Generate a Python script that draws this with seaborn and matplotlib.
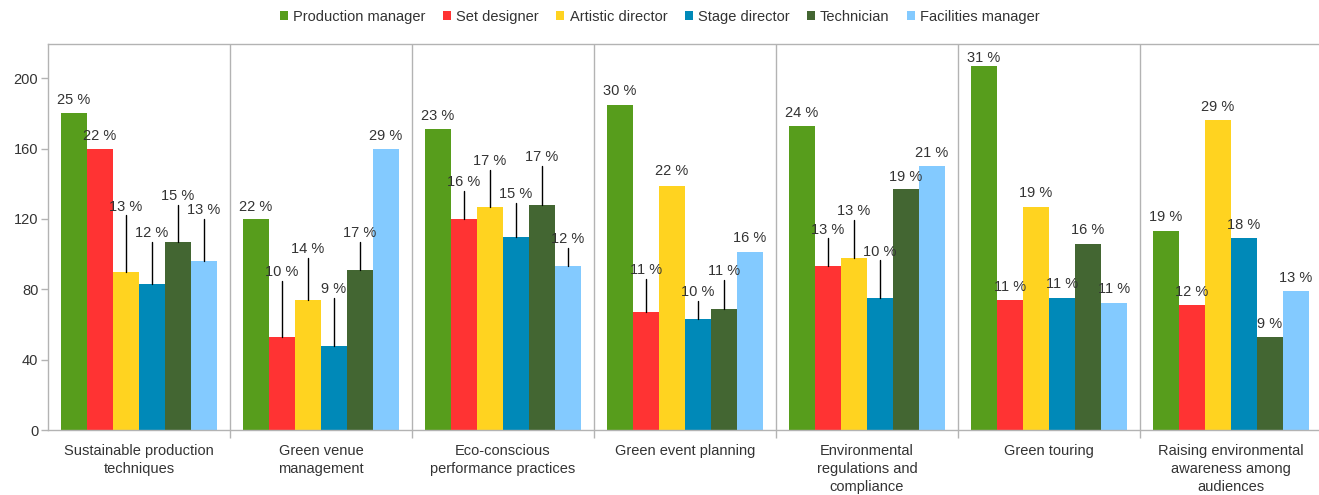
import matplotlib
matplotlib.use("Agg")
import matplotlib.pyplot as plt
import seaborn as sns
import pandas as pd
import numpy as np
from matplotlib.ticker import FixedLocator

# ---- data ----
categories = [
    "Sustainable production\ntechniques",
    "Green venue\nmanagement",
    "Eco-conscious\nperformance practices",
    "Green event planning",
    "Environmental\nregulations and\ncompliance",
    "Green touring",
    "Raising environmental\nawareness among\naudiences",
]
roles = ["Production manager", "Set designer", "Artistic director",
         "Stage director", "Technician", "Facilities manager"]

production_manager = [180, 120, 171, 185, 173, 207, 113]
set_designer       = [160, 53, 120, 67, 93, 74, 71]
artistic_director  = [90, 74, 127, 139, 98, 127, 176]
stage_director     = [83, 48, 110, 63, 75, 75, 109]
technician         = [107, 91, 128, 69, 137, 106, 53]
facilities_manager = [96, 160, 93, 101, 150, 72, 79]

pct_production_manager = [25, 22, 23, 30, 24, 31, 19]
pct_set_designer       = [22, 10, 16, 11, 13, 11, 12]
pct_artistic_director  = [13, 14, 17, 22, 13, 19, 29]
pct_stage_director     = [12, 9, 15, 10, 10, 11, 18]
pct_technician         = [15, 17, 17, 11, 19, 16, 9]
pct_facilities_manager = [13, 29, 12, 16, 21, 11, 13]

y_ticks = [0, 40, 80, 120, 160, 200]

# ---- layout: label centre heights (data units), per role, per category ----
label_y = {
    "Production manager": [187.5, 127, 178.5, 193, 180.5, 211.5, 121],
    "Set designer":       [167, 90, 141, 91, 114, 81.5, 78.5],
    "Artistic director":  [127, 103, 153, 147, 124.5, 135, 183.5],
    "Stage director":     [112, 80, 134, 78.5, 101.5, 83, 116.5],
    "Technician":         [133, 112, 155, 90.5, 144, 114, 60.5],
    "Facilities manager": [125, 167, 108.5, 109, 157.5, 80, 86.5],
}

values = [production_manager, set_designer, artistic_director,
          stage_director, technician, facilities_manager]
pcts = [pct_production_manager, pct_set_designer, pct_artistic_director,
        pct_stage_director, pct_technician, pct_facilities_manager]

rows = []
for role, vals in zip(roles, values):
    for cat, v in zip(categories, vals):
        rows.append({"Category": cat, "Role": role, "Value": v})
df = pd.DataFrame(rows)

colors = ["#579d1c", "#ff3333", "#ffd320", "#0089b8", "#436632", "#83caff"]

sns.set_theme(style="white")
plt.rcParams["font.family"] = ["Liberation Sans", "DejaVu Sans"]

fig = plt.figure(figsize=(13.19, 4.95), dpi=100)
ax = fig.add_axes([48 / 1319, (495 - 430) / 495, 1274 / 1319, (430 - 44) / 495])

sns.barplot(data=df, x="Category", y="Value", hue="Role", order=categories,
            hue_order=roles, palette=colors, width=0.857, saturation=1,
            linewidth=0, legend=True, ax=ax)

ax.set_xlim(-0.5, 6.5)
ax.set_ylim(0, 219.5)
ax.set_xlabel("")
ax.set_ylabel("")

# spines
for s in ["left", "top", "bottom"]:
    ax.spines[s].set_color("#b3b3b3")
    ax.spines[s].set_linewidth(1)
ax.spines["right"].set_visible(False)

# y ticks
ax.set_yticks(y_ticks)
ax.tick_params(axis="y", which="major", direction="out", length=5, width=1,
               color="#b3b3b3", labelsize=10.5, labelcolor="#333333", pad=2, left=True)

# x ticks: labels at centres, separators at boundaries
ax.set_xticks(range(len(categories)))
ax.set_xticklabels(categories, fontsize=10.5, color="#333333",
                   family=["Liberation Sans Narrow", "Liberation Sans", "DejaVu Sans"],
                   linespacing=1.35)
ax.tick_params(axis="x", which="major", length=0, pad=10)
ax.xaxis.set_minor_locator(FixedLocator(np.arange(0.5, len(categories) - 0.5, 1)))
ax.tick_params(axis="x", which="minor", direction="out", length=6, width=1,
               color="#b3b3b3", bottom=True)
ax.grid(False)
for b in np.arange(0.5, len(categories) - 0.5, 1):
    ax.axvline(b, color="#b3b3b3", lw=1, zorder=0)

# labels with leader lines
for role, container, pl in zip(roles, ax.containers, pcts):
    for i, bar in enumerate(container.patches):
        xc = bar.get_x() + bar.get_width() / 2
        h = bar.get_height()
        ly = label_y[role][i]
        ax.text(xc, ly, f"{pl[i]} %", ha="center", va="center",
                fontsize=10.5, color="#333333", zorder=5)
        if ly - h > 11:
            ax.plot([xc, xc], [h, ly - 5], color="black", lw=1, zorder=4)

# legend
handles, labels = ax.get_legend_handles_labels()
ax.legend_.remove()
leg = fig.legend(handles, labels, loc="center", bbox_to_anchor=(660 / 1319, 1 - 17 / 495),
                 ncol=6, frameon=False, handlelength=0.55, handleheight=0.55,
                 handletextpad=0.35, columnspacing=1.2,
                 prop={"family": ["Liberation Sans Narrow", "Liberation Sans", "DejaVu Sans"],
                       "size": 10.5})
for t in leg.get_texts():
    t.set_color("#333333")

fig.savefig("out.png", dpi=100)
